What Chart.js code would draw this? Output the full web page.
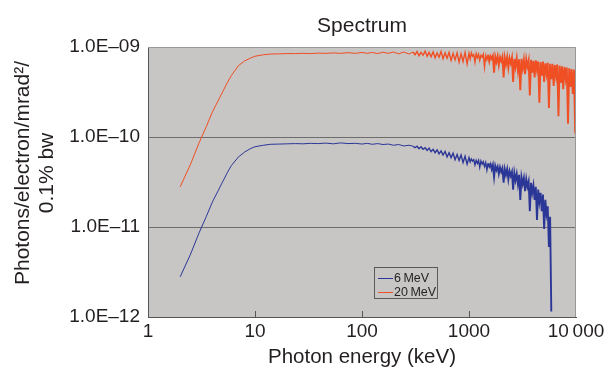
<!DOCTYPE html>
<html>
<head>
<meta charset="utf-8">
<script src="https://cdn.jsdelivr.net/npm/chart.js@4.4.1/dist/chart.umd.min.js"></script>
<style>
  html, body { margin: 0; padding: 0; background: #fff; }
  #wrap { width: 609px; height: 374px; }
</style>
</head>
<body>
<div id="wrap"><canvas id="spectrum" width="609" height="374"></canvas></div>
<script>
// --- data (keV, photons/electron/mrad²/0.1% bw) ---
const energies = [
  2, 2.5, 3, 3.5, 4, 4.5, 5, 5.5, 6, 7, 8, 9, 10, 12, 14, 17, 20, 24, 28, 33, 39, 46, 54, 63, 74, 87,
  100, 112, 125, 140, 157, 176, 197, 220, 246, 275,
  300, 313, 327, 341, 356, 372, 389, 406, 423, 442, 462, 482, 503, 525, 548, 572, 598, 624, 651, 680,
  710, 741, 774, 808, 843, 880, 919, 960,
  1000, 1026, 1053, 1080, 1108, 1137, 1167, 1197, 1228, 1260, 1293, 1327, 1361, 1396, 1433, 1470, 1508, 1548, 1588, 1629,
  1671, 1715, 1759, 1805, 1852, 1900, 1950, 2000, 2052, 2106, 2160, 2216, 2274, 2333, 2394, 2456, 2520, 2585, 2652, 2721,
  2792, 2865, 2939, 3016, 3094, 3175, 3257, 3342, 3429, 3518, 3609, 3703, 3799, 3898, 3999, 4103, 4210, 4319, 4432, 4547,
  4665, 4786, 4911, 5038, 5169, 5304, 5442, 5583, 5728, 5877, 6030, 6187, 6348, 6513, 6682, 6856, 7034, 7217, 7405, 7597,
  7795, 7998, 8206, 8419, 8638, 8863, 9093, 9330, 9572, 9821, 10000
];

const mev6 = [
  2.8e-12, 5.0e-12, 8.6e-12, 1.3e-11, 1.9e-11, 2.5e-11, 3.2e-11, 4.0e-11, 4.8e-11, 6.0e-11, 6.8e-11, 7.4e-11, 7.8e-11,
  8.1e-11, 8.3e-11, 8.35e-11, 8.4e-11, 8.45e-11, 8.4e-11, 8.5e-11, 8.45e-11, 8.55e-11, 8.4e-11, 8.6e-11, 8.45e-11, 8.5e-11,
  8.35e-11, 8.5e-11, 8.3e-11, 8.45e-11, 8.25e-11, 8.35e-11, 8.1e-11, 8.25e-11, 7.95e-11, 8.1e-11,
  7.9e-11, 7.6e-11, 7.9e-11, 7.4e-11, 7.8e-11, 7.3e-11, 7.6e-11, 7.1e-11, 7.5e-11, 6.9e-11,
  7.3e-11, 6.7e-11, 7.2e-11, 6.5e-11, 7.0e-11, 6.3e-11, 6.9e-11, 6.0e-11, 6.7e-11, 5.9e-11,
  6.6e-11, 5.6e-11, 6.4e-11, 5.5e-11, 6.3e-11, 5.2e-11, 6.1e-11, 5.0e-11,
  5.9e-11, 5.3e-11, 5.7e-11, 5.4e-11, 5.6e-11, 4.9e-11, 5.5e-11, 5.1e-11, 5.5e-11, 4.6e-11,
  5.4e-11, 5.0e-11, 5.3e-11, 4.7e-11, 5.2e-11, 4.3e-11, 5.1e-11, 4.7e-11, 5.0e-11, 4.4e-11,
  4.9e-11, 3.6e-11, 4.8e-11, 4.3e-11, 4.7e-11, 3.9e-11, 4.6e-11, 4.1e-11, 4.5e-11, 3.1e-11,
  4.4e-11, 3.8e-11, 4.4e-11, 3.4e-11, 4.2e-11, 3.7e-11, 4.1e-11, 2.6e-11, 4.0e-11, 3.3e-11,
  3.9e-11, 3.0e-11, 3.8e-11, 2.0e-11, 3.6e-11, 3.0e-11, 3.5e-11, 2.5e-11, 3.4e-11, 2.8e-11,
  3.2e-11, 1.5e-11, 3.1e-11, 2.4e-11, 2.9e-11, 2.0e-11, 2.8e-11, 1.2e-11, 2.6e-11, 1.9e-11,
  2.4e-11, 1.5e-11, 2.3e-11, 9.5e-12, 2.0e-11, 1.4e-11, 1.7e-11, 6.0e-12, 1.3e-11, 1.15e-12
];

const mev20 = [
  2.8e-11, 5.0e-11, 8.6e-11, 1.3e-10, 1.9e-10, 2.5e-10, 3.2e-10, 4.0e-10, 4.8e-10, 6.2e-10, 7.0e-10, 7.5e-10, 7.9e-10,
  8.2e-10, 8.35e-10, 8.4e-10, 8.45e-10, 8.45e-10, 8.5e-10, 8.45e-10, 8.55e-10, 8.5e-10, 8.6e-10, 8.5e-10, 8.65e-10, 8.5e-10,
  8.7e-10, 8.5e-10, 8.7e-10, 8.45e-10, 8.75e-10, 8.5e-10, 8.8e-10, 8.4e-10, 8.8e-10, 8.35e-10,
  8.8e-10, 8.2e-10, 8.9e-10, 8.0e-10, 8.7e-10, 8.1e-10, 9.0e-10, 7.9e-10, 8.7e-10, 7.8e-10,
  8.8e-10, 7.6e-10, 8.6e-10, 7.7e-10, 8.9e-10, 7.4e-10, 8.6e-10, 7.5e-10, 8.7e-10, 7.1e-10,
  8.5e-10, 7.2e-10, 8.6e-10, 6.8e-10, 8.4e-10, 6.9e-10, 8.7e-10, 6.5e-10,
  8.5e-10, 7.4e-10, 8.6e-10, 7.9e-10, 8.2e-10, 6.8e-10, 8.4e-10, 7.6e-10, 8.3e-10, 7.1e-10,
  8.1e-10, 7.7e-10, 8.3e-10, 6.0e-10, 8.0e-10, 7.2e-10, 8.2e-10, 6.9e-10, 7.9e-10, 7.4e-10,
  8.0e-10, 5.2e-10, 7.8e-10, 6.8e-10, 7.9e-10, 6.3e-10, 7.7e-10, 7.0e-10, 7.8e-10, 4.6e-10,
  7.6e-10, 6.4e-10, 7.7e-10, 5.9e-10, 7.5e-10, 6.6e-10, 7.6e-10, 4.1e-10, 7.4e-10, 6.0e-10,
  7.5e-10, 5.5e-10, 7.3e-10, 3.3e-10, 7.4e-10, 5.8e-10, 7.2e-10, 5.0e-10, 7.3e-10, 6.1e-10,
  7.1e-10, 2.9e-10, 7.2e-10, 5.2e-10, 7.0e-10, 4.6e-10, 7.1e-10, 5.6e-10, 6.9e-10, 2.4e-10,
  6.8e-10, 4.8e-10, 6.9e-10, 4.1e-10, 6.6e-10, 5.1e-10, 6.7e-10, 2.1e-10, 6.5e-10, 4.4e-10,
  6.5e-10, 3.7e-10, 6.3e-10, 4.8e-10, 6.4e-10, 1.7e-10, 6.2e-10, 4.0e-10, 6.1e-10, 3.4e-10,
  6.0e-10, 4.5e-10, 5.9e-10, 1.4e-10, 5.8e-10, 3.6e-10, 5.7e-10, 3.0e-10, 5.6e-10, 1.15e-10,
  1.05e-10
];

const seriesLabels = ['6\u2009MeV', '20\u2009MeV'];
const xTicks = [1, 10, 100, 1000, 10000];
const xTickLabels = ['1', '10', '100', '1000', '10\u2009000'];
const yTicks = [1e-12, 1e-11, 1e-10, 1e-9];
const yTickLabels = ['1.0E\u201312', '1.0E\u201311', '1.0E\u201310', '1.0E\u201309'];

const FONT = '"Liberation Sans", Arial, sans-serif';
const TEXT = '#231f20';
const PLOT_BG = '#c8c5c5';
const BLUE = '#2b3797';
const ORANGE = '#f04e23';

// noisy high-energy tail is drawn a bit heavier so the dense spikes merge into a band
const tailWidth = (c) => {
    const e = c.p0.parsed.x;
    if (e >= 1500) return 1.9;
    if (e >= 300) return 1.4;
    return 1;
};

// --- plot background, frame, inner ticks, titles and the boxed legend ---
const decorPlugin = {
    id: 'decor',
    beforeDraw(chart) {
        const { ctx, chartArea: a } = chart;
        ctx.save();
        ctx.fillStyle = PLOT_BG;
        ctx.fillRect(a.left, a.top, a.right - a.left, a.bottom - a.top);
        ctx.restore();
    },
    afterDraw(chart) {
        const { ctx, chartArea: a } = chart;
        const xs = chart.scales.x;
        ctx.save();

        // light top / right frame
        ctx.strokeStyle = '#9a9798';
        ctx.lineWidth = 1;
        ctx.beginPath();
        ctx.moveTo(a.left, a.top + 0.5);
        ctx.lineTo(a.right - 0.5, a.top + 0.5);
        ctx.lineTo(a.right - 0.5, a.bottom);
        ctx.stroke();

        // x ticks point into the plot
        ctx.strokeStyle = '#555';
        ctx.beginPath();
        xTicks.slice(1, -1).forEach(v => {
            const px = Math.round(xs.getPixelForValue(v)) + 0.5;
            ctx.moveTo(px, a.bottom);
            ctx.lineTo(px, a.bottom - 6);
        });
        ctx.stroke();

        // chart title
        ctx.fillStyle = TEXT;
        ctx.textAlign = 'center';
        ctx.textBaseline = 'alphabetic';
        ctx.font = '21px ' + FONT;
        ctx.fillText('Spectrum', (a.left + a.right) / 2, 32);

        // x axis title
        ctx.font = '20.5px ' + FONT;
        ctx.fillText('Photon energy (keV)', (a.left + a.right) / 2, 363);

        // y axis title, two lines
        ctx.save();
        ctx.translate(0, 173);
        ctx.rotate(-Math.PI / 2);
        ctx.textBaseline = 'middle';
        ctx.font = '21px ' + FONT;
        ctx.fillText('Photons/electron/mrad\u00b2/', 0, 23);
        ctx.fillText('0.1% bw', 0, 47);
        ctx.restore();

        // legend box inside the plot
        const bx = 374, by = 267, bw = 63, bh = 31;
        ctx.fillStyle = PLOT_BG;
        ctx.fillRect(bx, by, bw, bh);
        ctx.strokeStyle = '#5a5a5a';
        ctx.strokeRect(bx + 0.5, by + 0.5, bw, bh);
        ctx.font = '12.5px ' + FONT;
        ctx.textAlign = 'left';
        ctx.textBaseline = 'middle';
        chart.data.datasets.forEach((ds, i) => {
            const ly = by + 11 + i * 14;
            ctx.strokeStyle = ds.borderColor;
            ctx.lineWidth = 1;
            ctx.beginPath();
            ctx.moveTo(bx + 4, ly + 0.5);
            ctx.lineTo(bx + 19, ly + 0.5);
            ctx.stroke();
            ctx.fillStyle = TEXT;
            ctx.fillText(ds.label, bx + 20, ly + 0.5);
        });

        ctx.restore();
    }
};

const ctx = document.getElementById('spectrum').getContext('2d');
new Chart(ctx, {
    type: 'line',
    data: {
        datasets: [
            {
                label: seriesLabels[0],
                data: mev6.map((y, i) => ({ x: energies[i], y })),
                borderColor: BLUE,
                borderWidth: 1,
                pointRadius: 0,
                tension: 0,
                segment: { borderWidth: tailWidth }
            },
            {
                label: seriesLabels[1],
                data: mev20.map((y, i) => ({ x: energies[i], y })),
                borderColor: ORANGE,
                borderWidth: 1,
                pointRadius: 0,
                tension: 0,
                segment: { borderWidth: tailWidth }
            }
        ]
    },
    options: {
        responsive: false,
        animation: false,
        devicePixelRatio: 1,
        layout: { padding: { top: 47, right: 33, left: 0, bottom: 0 } },
        plugins: {
            legend: { display: false },
            title: { display: false },
            tooltip: { enabled: false }
        },
        scales: {
            x: {
                type: 'logarithmic',
                min: 1,
                max: 10000,
                afterBuildTicks: (scale) => { scale.ticks = xTicks.map(v => ({ value: v })); },
                afterFit: (scale) => { scale.height = 57; },
                ticks: {
                    autoSkip: false,
                    maxRotation: 0,
                    padding: 3,
                    color: TEXT,
                    font: { family: FONT, size: 19 },
                    callback: (v) => xTickLabels[xTicks.indexOf(v)] ?? ''
                },
                grid: { drawOnChartArea: false, drawTicks: false },
                border: { display: true, color: '#555', width: 1 }
            },
            y: {
                type: 'logarithmic',
                min: 1e-12,
                max: 1e-9,
                afterBuildTicks: (scale) => { scale.ticks = yTicks.map(v => ({ value: v })); },
                afterFit: (scale) => { scale.width = 148; },
                ticks: {
                    autoSkip: false,
                    padding: 8,
                    color: TEXT,
                    font: { family: FONT, size: 19 },
                    callback: (v) => {
                        const i = yTicks.findIndex(t => Math.abs(Math.log10(t) - Math.log10(v)) < 1e-6);
                        return i >= 0 ? yTickLabels[i] : '';
                    }
                },
                grid: {
                    drawTicks: false,
                    lineWidth: 1,
                    color: (c) => (c.index === 0 || c.index === yTicks.length - 1) ? 'rgba(0,0,0,0)' : '#6e6c6d'
                },
                border: { display: true, color: '#555', width: 1 }
            }
        }
    },
    plugins: [decorPlugin]
});
</script>
</body>
</html>
